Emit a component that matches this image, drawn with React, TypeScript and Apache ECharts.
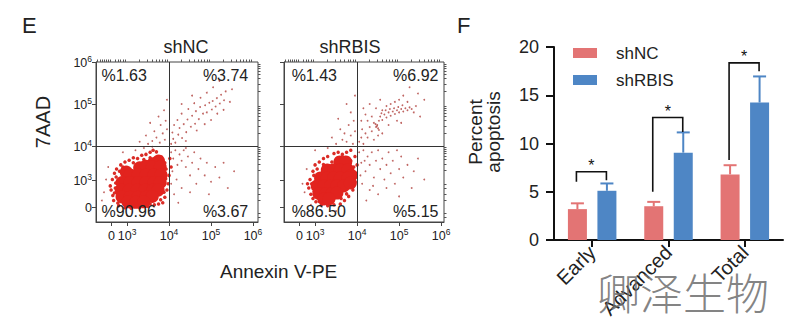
import React, { useEffect, useRef } from 'react';
import * as echarts from 'echarts';

const FONT = '"Liberation Sans", Arial, Helvetica, sans-serif';
const INK = '#222';

// ---------- Panel E : flow cytometry (display scale, decades) ----------
const xTickValues = [2.63, 3, 4, 5, 6];
const xTickLabels = ['0', '10^3', '10^4', '10^5', '10^6'];
const yTickValues = [2.55, 3.19, 4, 5, 6];
const yTickLabels = ['0', '10^3', '10^4', '10^5', '10^6'];
const gateX = 4;
const gateY = 4;

const quadrantTextNC = ['%1.63', '%3.74', '%90.96', '%3.67'];
const quadrantPosNC = [[2.38, 5.69], [5.9, 5.69], [2.38, 2.43], [5.9, 2.43]];
const quadrantTextRBIS = ['%1.43', '%6.92', '%86.50', '%5.15'];
const quadrantPosRBIS = [[2.43, 5.69], [5.95, 5.69], [2.43, 2.43], [5.95, 2.43]];

// dense population (drawn with large dots)
const coreNC = [
  [3.75, 3.64], [3.62, 3.58],
  [3.3, 3.48], [3.45, 3.52], [3.6, 3.5], [3.79, 3.5], [2.98, 3.38],
  [3.07, 3.31], [3.26, 3.31], [3.45, 3.31], [3.64, 3.31], [3.81, 3.31],
  [2.88, 3.13], [3.07, 3.13], [3.26, 3.13], [3.45, 3.13], [3.64, 3.13], [3.79, 3.13],
  [2.86, 2.95], [3.05, 2.95], [3.24, 2.95], [3.43, 2.95], [3.62, 2.95], [3.74, 2.95],
  [2.88, 2.79], [3.07, 2.78], [3.26, 2.78], [3.45, 2.78], [3.6, 2.8],
  [3.02, 2.67], [3.21, 2.66], [3.4, 2.67],
];
const haloNC = [
  [2.62, 2.95], [2.65, 3.2], [2.68, 2.7], [2.6, 3.05], [2.7, 3.35], [2.75, 3.45], [2.66, 2.82],
  [2.85, 3.55], [2.95, 3.62], [3.05, 3.66], [3.15, 3.72], [3.25, 3.7], [3.35, 3.78], [3.45, 3.8],
  [3.55, 3.85], [3.62, 3.9], [3.7, 3.86], [4.02, 3.7], [4.05, 3.5], [4.0, 3.3], [3.98, 3.1],
  [3.95, 2.95], [3.9, 2.78], [3.85, 2.65], [2.8, 2.58], [2.95, 2.53], [3.1, 2.52], [3.3, 2.53],
  [3.5, 2.56], [3.65, 2.6], [3.75, 2.62], [2.72, 3.0], [2.78, 2.64], [3.9, 3.6], [3.82, 3.74],
  [2.74, 3.26], [2.7, 2.88], [2.73, 3.12], [2.82, 3.4], [2.9, 3.5], [3.15, 3.6], [3.4, 3.68],
  [3.55, 3.72], [3.93, 3.45], [3.92, 3.22], [3.88, 2.9], [3.8, 2.72], [3.55, 2.62], [3.15, 2.56],
];
const sparseNC = [
  [2.5, 3.2], [2.45, 2.9], [2.55, 3.5], [2.9, 3.85], [3.2, 3.9], [3.4, 3.95], [3.6, 3.98],
  [2.4, 2.7], [3.0, 2.35], [3.55, 2.4],
  [3.5, 4.05], [3.6, 4.12], [3.7, 4.2], [3.78, 4.08], [3.85, 4.3], [3.9, 4.15], [3.95, 4.4],
  [3.65, 4.35], [3.8, 4.5], [3.45, 4.25], [3.3, 4.1], [3.92, 4.6], [3.75, 4.7], [3.55, 4.55],
  [3.88, 4.85], [3.95, 5.1],
  [4.05, 4.05], [4.1, 4.17], [4.15, 4.08], [4.22, 4.27], [4.08, 4.32], [4.25, 4.43], [4.31, 4.19],
  [4.35, 4.52], [4.41, 4.33], [4.44, 4.63], [4.52, 4.46], [4.55, 4.72], [4.62, 4.53], [4.64, 4.83],
  [4.71, 4.64], [4.74, 4.93], [4.81, 4.77], [4.86, 4.97], [4.9, 4.8], [4.96, 5.03], [5.02, 4.87],
  [5.04, 5.07], [5.11, 4.94], [5.14, 5.14], [5.21, 5.01], [5.24, 5.22], [5.31, 5.09], [5.35, 5.3],
  [4.3, 4.77], [4.46, 4.88], [4.6, 5.02], [4.2, 4.62], [4.75, 5.15], [4.9, 5.27], [5.0, 4.62],
  [4.85, 4.52], [4.66, 4.37], [4.4, 4.12], [5.15, 4.77], [5.3, 4.86], [4.12, 4.5], [5.45, 5.05],
  [5.05, 5.4], [4.55, 5.2], [5.5, 5.35], [5.2, 5.55], [4.3, 5.0],
  [4.05, 3.85], [4.1, 3.7], [4.15, 3.9], [4.2, 3.55], [4.25, 3.8], [4.3, 3.65], [4.08, 3.4],
  [4.35, 3.9], [4.4, 3.5], [4.45, 3.75], [4.5, 3.3], [4.55, 3.6], [4.6, 3.85], [4.7, 3.45],
  [4.75, 3.7], [4.85, 3.3], [4.9, 3.6], [5.0, 3.15], [5.1, 3.5], [5.2, 3.25], [5.3, 3.6],
  [4.18, 3.2], [4.3, 3.0], [4.5, 2.9], [4.12, 2.85], [4.65, 3.1], [5.4, 3.0], [4.95, 2.85],
  [4.22, 2.65], [5.55, 3.4], [4.05, 3.1], [4.4, 3.95],
];

const coreRBIS = [
  [3.59, 3.62], [3.73, 3.62],
  [3.29, 3.43], [3.44, 3.43], [3.6, 3.43], [3.78, 3.43], [3.86, 3.3],
  [3.13, 3.24], [3.29, 3.24], [3.44, 3.24], [3.6, 3.24], [3.78, 3.24],
  [3.05, 3.05], [3.21, 3.05], [3.37, 3.05], [3.52, 3.05], [3.68, 3.05], [3.84, 3.12],
  [3.09, 2.87], [3.25, 2.86], [3.4, 2.86], [3.52, 2.88],
  [3.21, 2.74], [3.33, 2.74],
];
const haloRBIS = [
  [2.85, 3.0], [2.88, 3.2], [2.9, 2.85], [2.95, 3.4], [2.82, 3.1], [3.0, 3.55], [3.1, 3.62],
  [3.2, 3.7], [3.3, 3.75], [3.45, 3.82], [3.55, 3.85], [3.65, 3.8], [3.75, 3.85], [3.85, 3.9],
  [3.95, 3.75], [4.0, 3.55], [3.98, 3.35], [3.95, 3.15], [3.9, 2.95], [3.8, 2.8], [3.7, 2.7],
  [3.6, 2.62], [3.45, 2.6], [3.3, 2.58], [3.15, 2.6], [3.02, 2.67], [2.95, 2.75],
  [3.85, 3.65], [3.92, 3.5], [2.92, 3.1], [2.98, 2.92], [3.05, 3.45], [3.2, 3.56],
  [3.4, 3.62], [3.9, 3.02], [3.75, 2.86], [3.62, 2.75], [3.1, 2.68], [2.97, 3.3],
];
const sparseRBIS = [
  [2.7, 3.1], [2.75, 2.9], [2.8, 3.45], [3.0, 3.9], [3.3, 3.95], [2.9, 2.6], [3.5, 2.45],
  [3.5, 4.05], [3.65, 4.15], [3.75, 4.1], [3.85, 4.25], [3.9, 4.05], [3.95, 4.35], [3.7, 4.3],
  [3.8, 4.5], [3.6, 4.4], [3.4, 4.2], [3.92, 4.6], [3.85, 4.8], [3.75, 5.0], [3.55, 4.65],
  [3.95, 5.2],
  [4.05, 4.1], [4.1, 4.2], [4.15, 4.05], [4.2, 4.3], [4.12, 4.4], [4.25, 4.2], [4.3, 4.45],
  [4.35, 4.35], [4.4, 4.55], [4.45, 4.45], [4.48, 4.5], [4.5, 4.42], [4.52, 4.6], [4.55, 4.7],
  [4.6, 4.62], [4.65, 4.75], [4.7, 4.68], [4.75, 4.8], [4.8, 4.72], [4.85, 4.82], [4.9, 4.76],
  [4.95, 4.85], [5.0, 4.8], [5.05, 4.88], [5.1, 4.82], [5.15, 4.9], [5.2, 4.85], [5.25, 4.92],
  [5.3, 4.88], [5.35, 4.8], [4.6, 4.85], [4.7, 4.95], [4.8, 5.0], [4.9, 5.05], [5.0, 5.1],
  [4.45, 4.9], [4.35, 4.7], [4.25, 4.6], [4.55, 5.1], [4.3, 5.0], [5.1, 5.2], [5.2, 5.05],
  [4.95, 4.6], [5.05, 4.55], [4.75, 4.5], [4.6, 4.3], [4.4, 4.15], [5.4, 4.95], [5.5, 4.7],
  [5.45, 5.25], [5.25, 5.4], [4.2, 4.75], [4.5, 4.25], [4.78, 4.88], [4.88, 4.9], [4.98, 4.93],
  [5.08, 4.97], [4.68, 4.85], [4.58, 4.78], [4.47, 4.47], [4.52, 4.38], [4.44, 4.52],
  [5.6, 5.1], [4.1, 4.6], [4.15, 4.9],
  [4.05, 3.85], [4.1, 3.6], [4.15, 3.9], [4.2, 3.4], [4.25, 3.75], [4.3, 3.55], [4.35, 3.85],
  [4.4, 3.25], [4.45, 3.65], [4.5, 3.9], [4.55, 3.45], [4.6, 3.7], [4.65, 3.2], [4.7, 3.55],
  [4.75, 3.85], [4.8, 3.35], [4.85, 3.65], [4.9, 3.1], [5.0, 3.45], [5.05, 3.75], [5.1, 3.25],
  [5.2, 3.55], [5.3, 3.0], [5.35, 3.4], [5.45, 3.7], [4.12, 3.1], [4.3, 2.95], [4.5, 2.85],
  [4.7, 3.0], [4.22, 2.7], [5.0, 2.8], [5.6, 3.2], [4.08, 3.3], [4.38, 3.05], [4.95, 3.9],
  [4.18, 3.65],
];

// ---------- Panel F : bar chart ----------
const categories = ['Early', 'Advanced', 'Total'];
const shNC = [3.2, 3.5, 6.8];
const shNCErr = [0.6, 0.45, 0.95];
const shRBIS = [5.1, 9.05, 14.25];
const shRBISErr = [0.76, 2.1, 2.7];
const sigTop = [7.07, 12.7, 18.35];
const sigLeftEnd = [6.03, 5.0, 8.3];
const sigRightEnd = [6.2, 11.2, 17.5];
const barTicks = [0, 5, 10, 15, 20];

const RED = '#E37474';
const BLUE = '#4E86C5';
const BAR_W = 19;
const BAR_GAP = 10.5;
const OFF = (BAR_W + BAR_GAP) / 2;

const logMinor = (from: number, span: number) =>
  [2, 3, 4, 5, 6, 7, 8, 9].map((k) => from + span * Math.log10(k));
const xMinor = [
  2.3, 2.35, 2.4, 2.45, 2.5, 2.55, 2.6, 2.72, 2.78, 2.84, 2.9, 2.95,
  ...logMinor(3, 1), ...logMinor(4, 1), ...logMinor(5, 1),
];
const yMinor = [2.3, 2.4, 2.7, 2.85, 3.0, 3.1, ...logMinor(3.19, 0.81), ...logMinor(4, 1), ...logMinor(5, 1)];

const supFormatter = (values: number[], labels: string[]) => (v: number) => {
  const i = values.findIndex((t) => Math.abs(t - v) < 1e-6);
  if (i < 0) return '';
  const [base, exp] = labels[i].split('^');
  return exp ? `{b|${base}}{s|${exp}}` : `{b|${base}}`;
};
const supRich = {
  b: { fontSize: 12.5, fontFamily: FONT, color: INK, lineHeight: 15, verticalAlign: 'bottom' },
  s: { fontSize: 8.5, fontFamily: FONT, color: INK, lineHeight: 9, verticalAlign: 'top' },
};

function flowAxes(grid: number, xmax: number, showYLabels: boolean) {
  const xMain = {
    type: 'value', gridIndex: grid, min: 2.26, max: xmax,
    axisLine: { show: true, lineStyle: { color: '#444', width: 1 } },
    splitLine: { show: false },
    axisTick: { show: true, customValues: xTickValues, length: 4, lineStyle: { color: '#444' } },
    axisLabel: { show: true, customValues: xTickValues, formatter: supFormatter(xTickValues, xTickLabels), rich: supRich, margin: 5 },
  };
  const xMin = {
    type: 'value', gridIndex: grid, min: 2.26, max: xmax,
    axisLine: { show: false }, splitLine: { show: false }, axisLabel: { show: false },
    axisTick: { show: true, customValues: xMinor, length: 2.5, lineStyle: { color: '#555' } },
  };
  const yMain = {
    type: 'value', gridIndex: grid, min: 2.19, max: 6.0,
    axisLine: { show: true, lineStyle: { color: '#444', width: 1 } },
    splitLine: { show: false },
    axisTick: { show: true, customValues: yTickValues, length: 4, lineStyle: { color: '#444' } },
    axisLabel: { show: showYLabels, customValues: yTickValues, formatter: supFormatter(yTickValues, yTickLabels), rich: supRich, margin: 4 },
  };
  const yMin = {
    type: 'value', gridIndex: grid, min: 2.19, max: 6.0,
    axisLine: { show: false }, splitLine: { show: false }, axisLabel: { show: false },
    axisTick: { show: true, customValues: yMinor, length: 2.5, lineStyle: { color: '#555' } },
  };
  return { x: [xMain, xMin], y: [yMain, yMin] };
}

function flowSeries(axisIdx: number, core: number[][], halo: number[][], sparse: number[][], texts: string[], pos: number[][]) {
  const base = { type: 'scatter', xAxisIndex: axisIdx, yAxisIndex: axisIdx, silent: true };
  return [
    { ...base, name: 'sparse' + axisIdx, data: sparse, symbolSize: 1.8, itemStyle: { color: '#B0403C', opacity: 0.8 }, z: 2 },
    { ...base, name: 'halo' + axisIdx, data: halo, symbolSize: 3.5, itemStyle: { color: '#DA2C26', opacity: 1 }, z: 3 },
    { ...base, name: 'core' + axisIdx, data: core, symbolSize: 13, itemStyle: { color: '#E2231E', opacity: 1 }, z: 4 },
    {
      ...base, name: 'quad' + axisIdx, symbolSize: 1, z: 6,
      itemStyle: { color: 'rgba(0,0,0,0)', opacity: 1 },
      data: texts.map((t, i) => ({
        value: pos[i], name: t,
        label: {
          show: true, formatter: t, position: i % 2 === 0 ? 'right' : 'left', distance: 0,
          fontSize: 16, fontFamily: FONT, color: INK, opacity: 1,
        },
      })),
      markLine: {
        silent: true, symbol: 'none', label: { show: false },
        lineStyle: { color: '#333', width: 1, type: 'solid', opacity: 1 },
        data: [{ xAxis: gateX }, { yAxis: gateY }],
        z: 6,
      },
    },
  ];
}

function buildOption() {
  const a0 = flowAxes(0, 6.12, true);
  const a1 = flowAxes(1, 6.07, false);
  const catIdx = 4;

  const errSeries = (name: string, vals: number[], errs: number[], color: string, sign: number) => ({
    type: 'custom', name, xAxisIndex: catIdx, yAxisIndex: catIdx, z: 3, silent: true,
    data: vals.map((v, i) => [i, v, v + errs[i]]),
    renderItem: (_p: any, api: any) => {
      const c0 = api.coord([api.value(0), api.value(1)]);
      const c1 = api.coord([api.value(0), api.value(2)]);
      const x = c0[0] + sign * OFF;
      return {
        type: 'group',
        children: [
          { type: 'line', shape: { x1: x, y1: c0[1], x2: x, y2: c1[1] }, style: { stroke: color, lineWidth: 2 } },
          { type: 'line', shape: { x1: x - 6.5, y1: c1[1], x2: x + 6.5, y2: c1[1] }, style: { stroke: color, lineWidth: 2 } },
        ],
      };
    },
  });

  return {
    animation: false,
    backgroundColor: '#fff',
    textStyle: { fontFamily: FONT },
    grid: [
      { left: 96, top: 62, width: 162, height: 160, show: true, borderColor: '#444', borderWidth: 1 },
      { left: 284, top: 62, width: 160, height: 160, show: true, borderColor: '#444', borderWidth: 1 },
      { left: 554, top: 47, width: 229, height: 193 },
    ],
    xAxis: [
      ...a0.x.map((a) => ({ ...a, gridIndex: 0 })),
      ...a1.x.map((a) => ({ ...a, gridIndex: 1 })),
      {
        type: 'category', gridIndex: 2, data: categories,
        axisLine: { show: true, lineStyle: { color: '#111', width: 2 } },
        axisTick: { show: true, alignWithLabel: true, length: 7, lineStyle: { color: '#111', width: 2 } },
        axisLabel: { rotate: 45, fontSize: 20, fontFamily: FONT, color: INK, margin: 9 },
      },
    ],
    yAxis: [
      ...a0.y.map((a) => ({ ...a, gridIndex: 0 })),
      ...a1.y.map((a) => ({ ...a, gridIndex: 1 })),
      {
        type: 'value', gridIndex: 2, min: barTicks[0], max: barTicks[barTicks.length - 1], interval: 5,
        axisLine: { show: true, lineStyle: { color: '#111', width: 2 } },
        axisTick: { show: true, length: 8, lineStyle: { color: '#111', width: 2 } },
        splitLine: { show: false },
        axisLabel: { fontSize: 18, fontFamily: FONT, color: INK, margin: 15 },
      },
    ],
    legend: {
      left: 568, top: 38, orient: 'vertical', itemWidth: 24, itemHeight: 10, itemGap: 7,
      icon: 'rect', data: ['shNC', 'shRBIS'],
      textStyle: { fontSize: 17, fontFamily: FONT, color: INK, padding: [0, 0, 0, 14], lineHeight: 20 },
    },
    graphic: [
      { type: 'text', x: 22, y: 25, style: { text: 'E', fontSize: 22, fontFamily: FONT, fill: INK, verticalAlign: 'middle', textVerticalAlign: 'middle' } },
      { type: 'text', x: 457, y: 25, style: { text: 'F', fontSize: 22, fontFamily: FONT, fill: INK, verticalAlign: 'middle', textVerticalAlign: 'middle' } },
      { type: 'text', x: 186, y: 47, style: { text: 'shNC', fontSize: 18, fontFamily: FONT, fill: INK, align: 'center', textAlign: 'center', verticalAlign: 'middle', textVerticalAlign: 'middle' } },
      { type: 'text', x: 350, y: 47, style: { text: 'shRBIS', fontSize: 18, fontFamily: FONT, fill: INK, align: 'center', textAlign: 'center', verticalAlign: 'middle', textVerticalAlign: 'middle' } },
      { type: 'text', x: 43, y: 122, rotation: Math.PI / 2, style: { text: '7AAD', fontSize: 20, fontFamily: FONT, fill: INK, align: 'center', textAlign: 'center', verticalAlign: 'middle', textVerticalAlign: 'middle' } },
      { type: 'text', x: 220, y: 271, style: { text: 'Annexin V-PE', fontSize: 19, fontFamily: FONT, fill: INK, verticalAlign: 'middle', textVerticalAlign: 'middle' } },
      { type: 'text', x: 484, y: 132, rotation: Math.PI / 2, style: { text: 'Percent\napoptosis', fontSize: 19, lineHeight: 18, fontFamily: FONT, fill: INK, align: 'center', textAlign: 'center', verticalAlign: 'middle', textVerticalAlign: 'middle' } },
      { type: 'text', x: 597, y: 291, z: 100, style: { text: '卿泽生物', fontSize: 43, lineHeight: 44, fontFamily: '"Noto Sans CJK SC", sans-serif', fontWeight: 300, fill: 'rgba(110,110,110,0.85)', verticalAlign: 'middle', textVerticalAlign: 'middle' } },
    ],
    series: [
      ...flowSeries(0, coreNC, haloNC, sparseNC, quadrantTextNC, quadrantPosNC),
      ...flowSeries(2, coreRBIS, haloRBIS, sparseRBIS, quadrantTextRBIS, quadrantPosRBIS),
      {
        type: 'bar', name: 'shNC', xAxisIndex: catIdx, yAxisIndex: catIdx, data: shNC,
        barWidth: BAR_W, barGap: `${(BAR_GAP / BAR_W) * 100}%`, itemStyle: { color: RED }, z: 2,
      },
      {
        type: 'bar', name: 'shRBIS', xAxisIndex: catIdx, yAxisIndex: catIdx, data: shRBIS,
        barWidth: BAR_W, barGap: `${(BAR_GAP / BAR_W) * 100}%`, itemStyle: { color: BLUE }, z: 2,
      },
      errSeries('shNC error', shNC, shNCErr, RED, -1),
      errSeries('shRBIS error', shRBIS, shRBISErr, BLUE, 1),
      {
        type: 'custom', name: 'significance', xAxisIndex: catIdx, yAxisIndex: catIdx, z: 4, silent: true,
        data: categories.map((_c, i) => [i, sigTop[i], sigLeftEnd[i], sigRightEnd[i]]),
        renderItem: (_p: any, api: any) => {
          const i = api.value(0);
          const top = api.coord([i, api.value(1)]);
          const lb = api.coord([i, api.value(2)]);
          const rb = api.coord([i, api.value(3)]);
          const xl = top[0] - OFF - 1;
          const xr = top[0] + OFF - 0.5;
          return {
            type: 'group',
            children: [
              {
                type: 'polyline',
                shape: { points: [[xl, lb[1]], [xl, top[1]], [xr, top[1]], [xr, rb[1]]] },
                style: { stroke: '#111', lineWidth: 1.6, fill: 'none' },
              },
              {
                type: 'text',
                style: {
                  text: '*', x: (xl + xr) / 2, y: top[1] - 6, fontSize: 16, fontFamily: FONT, fill: '#111',
                  align: 'center', textAlign: 'center', verticalAlign: 'middle', textVerticalAlign: 'middle',
                },
              },
            ],
          };
        },
      },
    ],
  };
}

export default function App() {
  const ref = useRef<HTMLDivElement>(null);
  useEffect(() => {
    if (!ref.current) return;
    const chart = echarts.init(ref.current, null, { renderer: 'svg' });
    chart.setOption(buildOption() as any);
    return () => chart.dispose();
  }, []);
  return (
    <div
      ref={ref}
      style={{ position: 'fixed', left: 0, top: 0, width: 790, height: 325, background: '#fff' }}
    />
  );
}
